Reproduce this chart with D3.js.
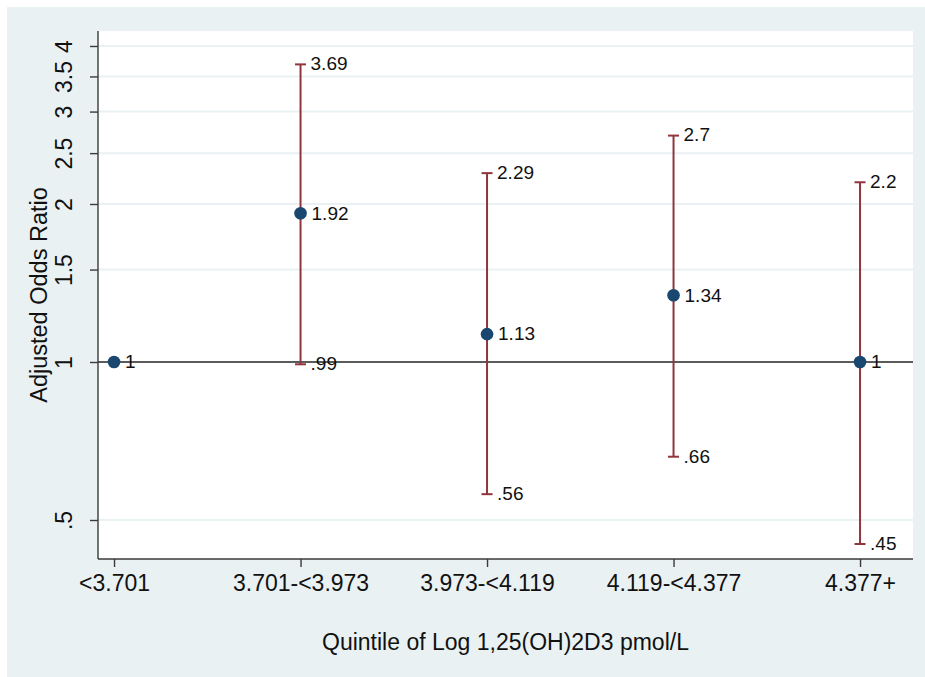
<!DOCTYPE html>
<html>
<head>
<meta charset="utf-8">
<script src="https://cdn.jsdelivr.net/npm/d3@7"></script>
<style>
  html, body { margin: 0; padding: 0; background: #ffffff; }
  svg { display: block; }
  text { font-family: "Liberation Sans", Arial, Helvetica, sans-serif; fill: #111; }
</style>
</head>
<body>
<svg id="chart" width="925" height="677"></svg>
<script>
// Quintile categories and adjusted odds ratios with 95% CI bounds
const categories = ["<3.701", "3.701-<3.973", "3.973-<4.119", "4.119-<4.377", "4.377+"];
const oddsRatio  = [1, 1.92, 1.13, 1.34, 1];
const lowerCI    = [null, 0.99, 0.56, 0.66, 0.45];
const upperCI    = [null, 3.69, 2.29, 2.7, 2.2];
const yTicks     = [0.5, 1, 1.5, 2, 2.5, 3, 3.5, 4];

const W = 925, H = 677;
const plot = { left: 98, right: 913, top: 31, bottom: 559 };

const colors = {
  region: "#eaf1f3",
  grid: "#eaf1f3",
  axis: "#3a3a3a",
  ci: "#90353b",
  marker: "#1a476f"
};

const axisFont = 23;
const labelSize = 19;

// Stata-style number format: drop the leading zero
const fmt = v => String(+v.toFixed(2)).replace(/^0\./, ".");

const svg = d3.select("#chart");

// graph region background
svg.append("rect")
  .attr("x", 7).attr("y", 7)
  .attr("width", W - 7).attr("height", H - 7)
  .attr("fill", colors.region);

// plot region
svg.append("rect")
  .attr("x", plot.left).attr("y", plot.top)
  .attr("width", plot.right - plot.left).attr("height", plot.bottom - plot.top)
  .attr("fill", "#ffffff");

// scales: x is category index 1..5, y is logarithmic
const x = d3.scaleLinear().domain([0.914, 5.284]).range([plot.left, plot.right]);
const y = d3.scaleLog().base(2)
  .domain([Math.pow(2, -1.2468), Math.pow(2, 2.0949)])
  .range([plot.bottom, plot.top]);

// horizontal gridlines
svg.append("g")
  .selectAll("line")
  .data(yTicks)
  .join("line")
  .attr("x1", plot.left).attr("x2", plot.right)
  .attr("y1", d => y(d)).attr("y2", d => y(d))
  .attr("stroke", colors.grid)
  .attr("stroke-width", 2);

// reference line at OR = 1
svg.append("line")
  .attr("x1", plot.left).attr("x2", plot.right)
  .attr("y1", y(1)).attr("y2", y(1))
  .attr("stroke", "#2a2a2a")
  .attr("stroke-width", 1.5);

// y axis
const yAxis = d3.axisLeft(y)
  .tickValues(yTicks)
  .tickFormat(fmt)
  .tickSize(8)
  .tickPadding(0);

const gy = svg.append("g")
  .attr("transform", `translate(${plot.left},0)`)
  .call(yAxis);
gy.select(".domain").attr("stroke", colors.axis).attr("stroke-width", 1.4)
  .attr("d", `M0,${plot.top}V${plot.bottom}`);
gy.selectAll(".tick line").attr("stroke", colors.axis).attr("stroke-width", 1.4);
gy.selectAll(".tick text")
  .attr("font-size", axisFont)
  .attr("fill", "#111")
  .attr("text-anchor", "middle")
  .attr("dy", null)
  .attr("x", null)
  .attr("transform", "translate(-26,0) rotate(-90)");

// x axis
const xAxis = d3.axisBottom(x)
  .tickValues(d3.range(1, categories.length + 1))
  .tickFormat(d => categories[d - 1])
  .tickSize(8)
  .tickPadding(6);

const gx = svg.append("g")
  .attr("transform", `translate(0,${plot.bottom})`)
  .call(xAxis);
gx.select(".domain").attr("stroke", colors.axis).attr("stroke-width", 1.4)
  .attr("d", `M${plot.left},0H${plot.right}`);
gx.selectAll(".tick line").attr("stroke", colors.axis).attr("stroke-width", 1.4);
gx.selectAll(".tick text")
  .attr("font-size", axisFont)
  .attr("fill", "#111")
  .attr("dy", null)
  .attr("y", 32);

// axis titles
svg.append("text")
  .attr("x", (plot.left + plot.right) / 2)
  .attr("y", 650)
  .attr("text-anchor", "middle")
  .attr("font-size", axisFont)
  .text("Quintile of Log 1,25(OH)2D3 pmol/L");

svg.append("text")
  .attr("transform", `translate(47,${(plot.top + plot.bottom) / 2}) rotate(-90)`)
  .attr("text-anchor", "middle")
  .attr("font-size", 23.5)
  .text("Adjusted Odds Ratio");

// confidence intervals
const rows = categories.map((c, i) => ({
  i: i + 1, or: oddsRatio[i], lo: lowerCI[i], hi: upperCI[i]
}));
const ciRows = rows.filter(d => d.lo != null && d.hi != null);
const capHalf = 5.5;

const ci = svg.append("g").attr("stroke", colors.ci).attr("stroke-width", 2);
ci.selectAll("line.bar")
  .data(ciRows)
  .join("line")
  .attr("class", "bar")
  .attr("x1", d => x(d.i)).attr("x2", d => x(d.i))
  .attr("y1", d => y(d.lo)).attr("y2", d => y(d.hi));
ci.selectAll("line.capHi")
  .data(ciRows)
  .join("line")
  .attr("class", "capHi")
  .attr("x1", d => x(d.i) - capHalf).attr("x2", d => x(d.i) + capHalf)
  .attr("y1", d => y(d.hi)).attr("y2", d => y(d.hi));
ci.selectAll("line.capLo")
  .data(ciRows)
  .join("line")
  .attr("class", "capLo")
  .attr("x1", d => x(d.i) - capHalf).attr("x2", d => x(d.i) + capHalf)
  .attr("y1", d => y(d.lo)).attr("y2", d => y(d.lo));

// CI bound labels
const labels = svg.append("g").attr("font-size", labelSize);
labels.selectAll("text.hi")
  .data(ciRows)
  .join("text")
  .attr("class", "hi")
  .attr("x", d => x(d.i) + 10)
  .attr("y", d => y(d.hi) + labelSize * 0.36 - 1)
  .text(d => fmt(d.hi));
labels.selectAll("text.lo")
  .data(ciRows)
  .join("text")
  .attr("class", "lo")
  .attr("x", d => x(d.i) + 10)
  .attr("y", d => y(d.lo) + labelSize * 0.36 - 1)
  .text(d => fmt(d.lo));

// point estimates
svg.append("g")
  .selectAll("circle")
  .data(rows)
  .join("circle")
  .attr("cx", d => x(d.i))
  .attr("cy", d => y(d.or))
  .attr("r", 6.3)
  .attr("fill", colors.marker);

labels.selectAll("text.or")
  .data(rows)
  .join("text")
  .attr("class", "or")
  .attr("x", d => x(d.i) + 11)
  .attr("y", d => y(d.or) + labelSize * 0.36 - 0.5)
  .text(d => fmt(d.or));
</script>
</body>
</html>
